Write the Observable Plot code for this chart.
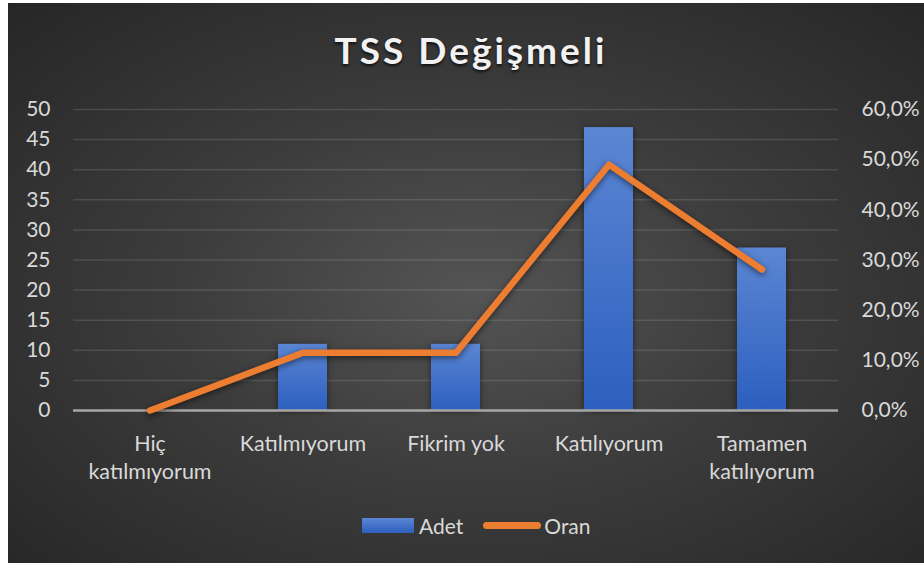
<!DOCTYPE html>
<html><head><meta charset="utf-8">
<script src="https://cdn.jsdelivr.net/npm/d3@7"></script>
<script src="https://cdn.jsdelivr.net/npm/@observablehq/plot@0.6"></script>
<style>
body{margin:0;background:#fff;width:924px;height:567px;overflow:hidden;font-family:Lato,sans-serif;position:relative}
#bg{position:absolute;left:8px;top:3px;width:916px;height:560px;background:radial-gradient(ellipse farthest-corner at 51% 52%, #545454 0%, #3c3c3c 45%, #262626 100%)}
#title{position:absolute;left:0;top:31px;width:942px;text-align:center;font:700 37px/37px Lato,sans-serif;letter-spacing:3px;color:#f2f2f2;text-shadow:0 2px 3px rgba(0,0,0,0.7)}
#chart{position:absolute;left:0;top:0}
#legend{position:absolute;left:362px;top:511px;height:28px;display:flex;align-items:center;font:21px Lato,sans-serif;color:#d9d9d9}
.sw-bar{width:52px;height:15px;background:linear-gradient(#5b86d3,#2c5fbf);margin-right:5px}
.sw-line{width:58px;height:7px;border-radius:4px;background:#ed7d31;margin-left:20px;margin-right:3px}
g[aria-label="bar"] rect{filter:drop-shadow(0 1px 3px rgba(0,0,0,0.5))}
g[aria-label="line"] path{filter:drop-shadow(0 2px 3px rgba(0,0,0,0.55))}
</style>
</head><body>
<div id="bg"></div>
<div id="title">TSS Değişmeli</div>
<div id="chart"></div>
<div id="legend"><div class="sw-bar"></div><span>Adet</span><div class="sw-line"></div><span>Oran</span></div>
<script>
const categories = ["Hiç katılmıyorum", "Katılmıyorum", "Fikrim yok", "Katılıyorum", "Tamamen katılıyorum"];
const categoryLabels = ["Hiç\nkatılmıyorum", "Katılmıyorum", "Fikrim yok", "Katılıyorum", "Tamamen\nkatılıyorum"];
const adet = [0, 11, 11, 47, 27];
const oran = [0, 0.115, 0.115, 0.49, 0.281];
const leftTicks = [0, 5, 10, 15, 20, 25, 30, 35, 40, 45, 50];
const rightTicks = [0, 0.1, 0.2, 0.3, 0.4, 0.5, 0.6];

const factor = 50 / 0.6;
const rows = categories.map((c, i) => ({cat: c, adet: adet[i], oran: oran[i]}));
const labelOf = new Map(categories.map((c, i) => [c, categoryLabels[i]]));

const plot = Plot.plot({
  width: 924,
  height: 567,
  marginLeft: 73,
  marginRight: 86,
  marginTop: 109,
  marginBottom: 157,
  style: {background: "transparent", color: "#d9d9d9", fontFamily: "Lato, sans-serif", fontSize: "21px"},
  x: {type: "band", domain: categories, paddingInner: 0.68, paddingOuter: 0.34},
  y: {domain: [0, 50]},
  marks: [
    Plot.gridY(leftTicks, {stroke: "#ffffff", strokeOpacity: 0.12, strokeWidth: 1.5}),
    Plot.barY(rows, {x: "cat", y: "adet", fill: "url(#barGrad)"}),
    Plot.ruleY([0], {stroke: "#a6a6a6", strokeWidth: 2.5}),
    Plot.line(rows, {x: "cat", y: d => d.oran * factor, stroke: "#ed7d31", strokeWidth: 6.5, strokeLinecap: "round", strokeLinejoin: "round"}),
    Plot.axisY(leftTicks, {anchor: "left", label: null, tickSize: 0, tickPadding: 23, fontSize: 21}),
    Plot.axisY(rightTicks.map(t => t * factor), {anchor: "right", label: null, tickSize: 0, tickPadding: 23, fontSize: 21,
      tickFormat: d => (d / factor * 100).toFixed(1).replace(".", ",") + "%"}),
    Plot.axisX({label: null, tickSize: 0, tickPadding: 21, fontSize: 21.5, lineHeight: 1.3, tickFormat: d => labelOf.get(d)})
  ]
});
const ns = "http://www.w3.org/2000/svg";
const defs = document.createElementNS(ns, "defs");
defs.innerHTML = '<linearGradient id="barGrad" x1="0" y1="0" x2="0" y2="1"><stop offset="0" stop-color="#5b86d3"/><stop offset="1" stop-color="#2c5fbf"/></linearGradient>';
plot.insertBefore(defs, plot.firstChild);
document.getElementById("chart").appendChild(plot);
</script>
</body></html>
